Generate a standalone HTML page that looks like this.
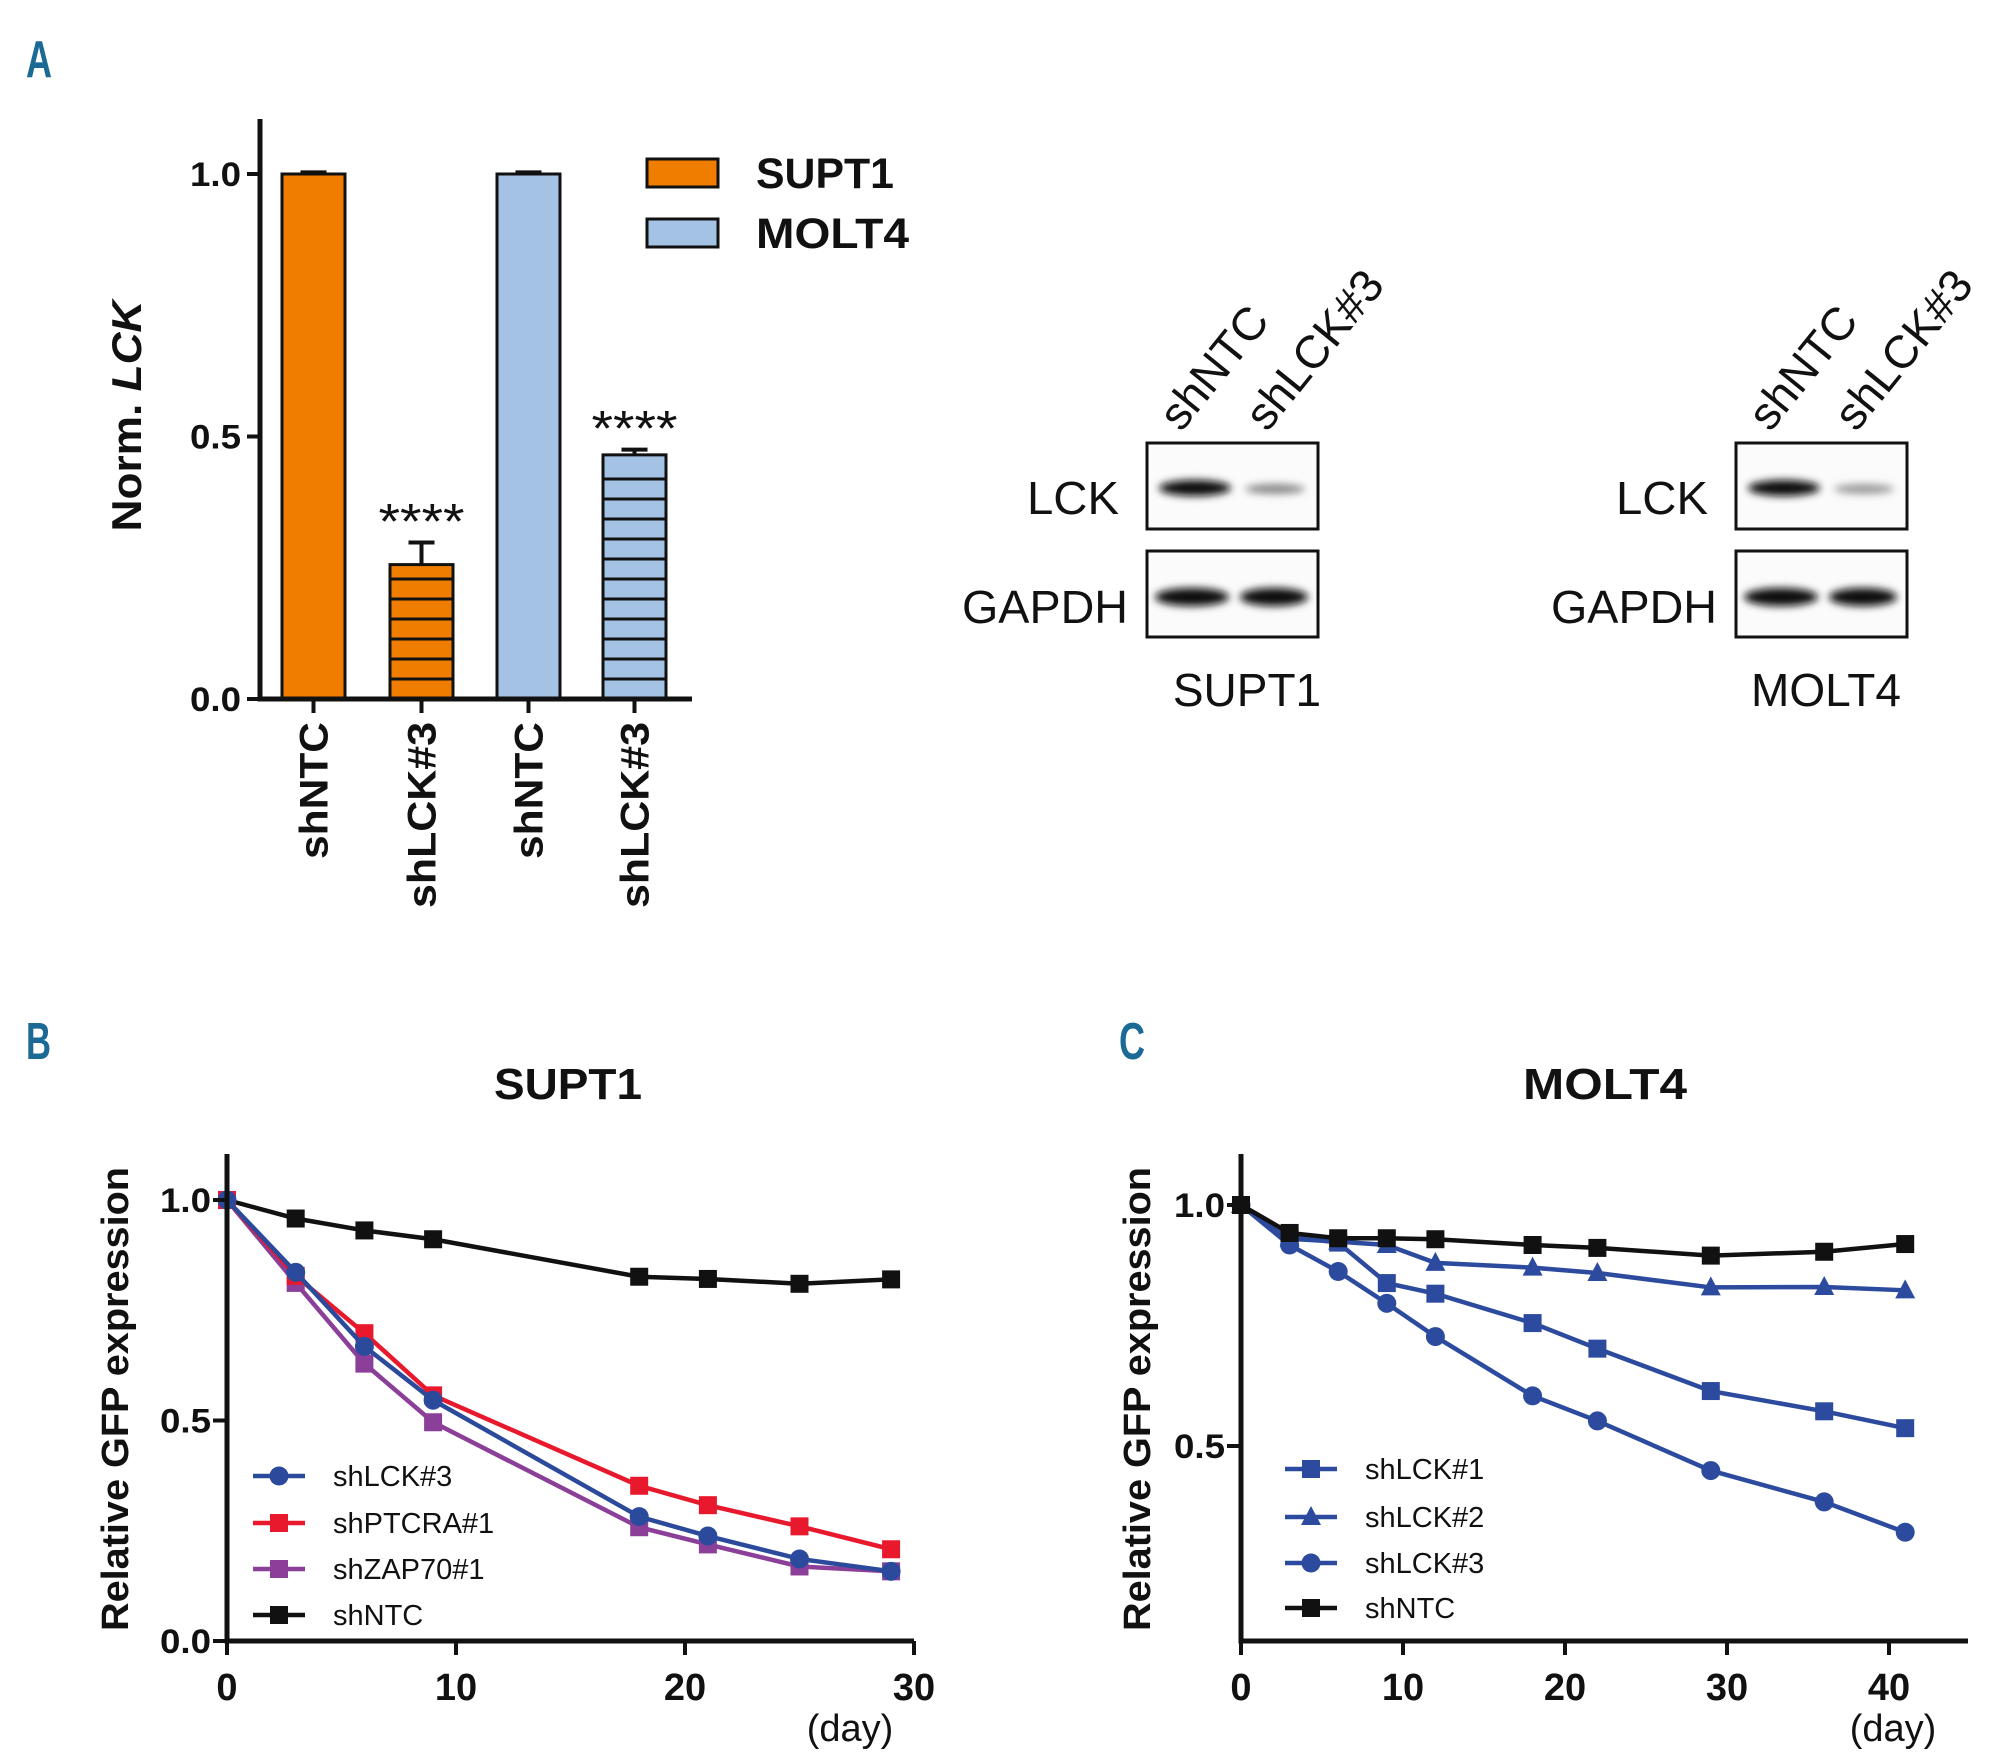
<!DOCTYPE html>
<html><head><meta charset="utf-8"><style>
html,body{margin:0;padding:0;background:#fff}
svg{display:block}
text{font-family:"Liberation Sans",sans-serif}
.b{font-weight:bold}
</style></head><body>
<svg id="fig" width="2000" height="1762" viewBox="0 0 2000 1762" xmlns="http://www.w3.org/2000/svg">
<defs>
<filter id="blur" x="-30%" y="-100%" width="160%" height="300%"><feGaussianBlur stdDeviation="4"/></filter>
</defs>
<g id="panelA"></g>
<g id="blots"></g>
<g id="panelB"></g>
<g id="panelC"></g>
</svg>
<script>
// ---------- Panel A data ----------
const barCategories = ["shNTC","shLCK#3","shNTC","shLCK#3"];
const barValues = [1.0, 0.256, 1.0, 0.465];
const barErrors = [0.003, 0.042, 0.003, 0.01];
const barStars = ["", "****", "", "****"];
const barTicks = [0.0, 0.5, 1.0];
const tickLabelsA = ["0.0","0.5","1.0"];
// ---------- Panel B data ----------
const daysB = [0,3,6,9,18,21,25,29];
const bNTC = [1.0,0.958,0.931,0.911,0.826,0.821,0.810,0.820];
const bLCK3 = [1.0,0.836,0.668,0.546,0.282,0.238,0.186,0.158];
const bPTCRA1 = [1.0,0.828,0.698,0.557,0.352,0.308,0.260,0.208];
const bZAP701 = [1.0,0.812,0.629,0.496,0.258,0.219,0.169,0.158];
const xTicksB = [0,10,20,30];
const yTicksB = [0.0,0.5,1.0];
const yTickLabelsB = ["0.0","0.5","1.0"];
// ---------- Panel C data ----------
const daysC = [0,3,6,9,12,18,22,29,36,41];
const cNTC = [1.0,0.942,0.931,0.931,0.929,0.917,0.911,0.895,0.903,0.919];
const cLCK2 = [1.0,0.930,0.924,0.917,0.880,0.870,0.859,0.829,0.830,0.823];
const cLCK1 = [1.0,0.935,0.922,0.838,0.816,0.755,0.702,0.614,0.572,0.537];
const cLCK3 = [1.0,0.917,0.862,0.796,0.727,0.604,0.552,0.449,0.384,0.321];
const xTicksC = [0,10,20,30,40];
const yTicksC = [0.5,1.0];
const yTickLabelsC = ["0.5","1.0"];

const NS="http://www.w3.org/2000/svg";
function mk(parent, tag, attrs, txt){
  const e=document.createElementNS(NS,tag);
  for(const k in attrs) e.setAttribute(k,attrs[k]);
  if(txt!==undefined) e.textContent=txt;
  parent.appendChild(e); return e;
}

// ===== Panel A =====
const A=document.getElementById('panelA');
const yA=v=>699-525*v;
const barX=[282,390,497,603], barW=63;
const barFill=["#ee7d00","#ee7d00","#a4c2e3","#a4c2e3"];
let t;
t=mk(A,'text',{x:26,y:77,'font-size':52,fill:'#1b6a96','class':'b',textLength:26,lengthAdjust:'spacingAndGlyphs'},'A');


barValues.forEach((v,i)=>{
  const x=barX[i], top=yA(v);
  const r=mk(A,'rect',{x:x,y:top,width:barW,height:yA(0)-top,fill:barFill[i],stroke:'#111','stroke-width':3});
  
  
  if(i%2==1){
    for(let yy=yA(0)-20; yy>top+8; yy-=20){
      const l=mk(A,'line',{x1:x,x2:x+barW,y1:yy,y2:yy,stroke:'#111','stroke-width':3});
      
      
    }
  }
  const cx=x+barW/2, ey=yA(v+barErrors[i]);
  const eb=mk(A,'path',{d:`M${cx} ${top}V${ey}M${cx-13} ${ey}H${cx+13}`,stroke:'#111','stroke-width':4,fill:'none'});
  
  
  if(barStars[i]){
    const s=mk(A,'text',{x:cx,y:ey-4,'font-size':50,'text-anchor':'middle',fill:'#111',textLength:86,lengthAdjust:'spacingAndGlyphs'},barStars[i]);
    
    
  }
  const tk=mk(A,'line',{x1:cx,x2:cx,y1:yA(0),y2:yA(0)+14,stroke:'#111','stroke-width':4});
  
  
  const lb=mk(A,'text',{x:0,y:0,'font-size':40,'class':'b','text-anchor':'end',fill:'#111',transform:`translate(${cx+14},722) rotate(-90)`,textLength:barCategories[i].length>5?186:137,lengthAdjust:'spacingAndGlyphs'},barCategories[i]);
  
  
});
barTicks.forEach((v,i)=>{
  const l=mk(A,'line',{x1:247,x2:260,y1:yA(v),y2:yA(v),stroke:'#111','stroke-width':4});
  
  
  const tx=mk(A,'text',{x:241,y:yA(v)+12,'font-size':34,'class':'b','text-anchor':'end',fill:'#111',textLength:51,lengthAdjust:'spacingAndGlyphs'},tickLabelsA[i]);
  
  
});
t=mk(A,'path',{d:'M260 119V699H692',stroke:'#111','stroke-width':5,fill:'none'});


t=mk(A,'text',{x:0,y:0,'font-size':42,'class':'b','text-anchor':'middle',fill:'#111',transform:'translate(141,416) rotate(-90)',textLength:231,lengthAdjust:'spacingAndGlyphs'});


t.innerHTML='Norm. <tspan font-style="italic">LCK</tspan>';
[["SUPT1","#ee7d00",159,138],["MOLT4","#a4c2e3",219,153]].forEach(([n,c,y,w])=>{
  const g=mk(A,'g',{});
  
  
  mk(g,'rect',{x:647,y:y,width:71,height:28,fill:c,stroke:'#111','stroke-width':3});
  mk(g,'text',{x:756,y:y+29,'font-size':43,'class':'b',fill:'#111',textLength:w,lengthAdjust:'spacingAndGlyphs'},n);
});

// ===== Blots =====
const BL=document.getElementById('blots');
function blot(x0,name,lckB,nameX){
  const g=mk(BL,'g',{});
  
  
  [["shNTC",x0+34],["shLCK#3",x0+120]].forEach(([s,x])=>{
    const tt=mk(g,'text',{x:0,y:0,'font-size':46,fill:'#111',transform:`translate(${x},433) rotate(-51)`},s);
    
    
  });
  mk(g,'rect',{x:x0,y:443,width:171,height:86,fill:'#fbfbfb',stroke:'#111','stroke-width':3});
  mk(g,'rect',{x:x0,y:551,width:171,height:86,fill:'#fbfbfb',stroke:'#111','stroke-width':3});
  mk(g,'ellipse',{cx:x0+48,cy:488,rx:36,ry:8,fill:'#111',filter:'url(#blur)'});
  mk(g,'ellipse',{cx:x0+128,cy:489,rx:30,ry:5,fill:lckB,filter:'url(#blur)'});
  mk(g,'ellipse',{cx:x0+45,cy:597,rx:37,ry:9,fill:'#0a0a0a',filter:'url(#blur)'});
  mk(g,'ellipse',{cx:x0+127,cy:597,rx:34,ry:9,fill:'#0a0a0a',filter:'url(#blur)'});
  let a=mk(g,'text',{x:x0-28,y:514,'font-size':46,'text-anchor':'end',fill:'#111',textLength:92,lengthAdjust:'spacingAndGlyphs'},'LCK');
  
  
  a=mk(g,'text',{x:x0-19,y:623,'font-size':46,'text-anchor':'end',fill:'#111',textLength:166,lengthAdjust:'spacingAndGlyphs'},'GAPDH');
  
  
  a=mk(g,'text',{x:nameX,y:706,'font-size':46,'text-anchor':'middle',fill:'#111'},name);
  
  
}
blot(1147,'SUPT1','#888',1247);
blot(1736,'MOLT4','#999',1826);

// ===== Line chart helper =====
function marker(g,m,x,y,c){
  if(m==='sq') mk(g,'rect',{x:x-9,y:y-9,width:18,height:18,fill:c});
  else if(m==='ci') mk(g,'circle',{cx:x,cy:y,r:9.5,fill:c});
  else mk(g,'polygon',{points:`${x},${y-11} ${x+10},${y+8} ${x-10},${y+8}`,fill:c});
}
function lineChart(P,cfg){
  const {xf,yf,series,legend,legY,legX,axis,xTicks,yTicks,yLabels,ytlX} = cfg;
  series.forEach(s=>{
    const g=mk(P,'g',{});
    
    
    const pts=s.x.map((d,i)=>xf(d)+','+yf(s.y[i])).join(' ');
    mk(g,'polyline',{points:pts,fill:'none',stroke:s.c,'stroke-width':4.5});
    s.x.forEach((d,i)=>marker(g,s.m,xf(d),yf(s.y[i]),s.c));
  });
  legend.forEach((s,i)=>{
    const g=mk(P,'g',{});
    
    
    const y=legY[i];
    mk(g,'line',{x1:legX,x2:legX+52,y1:y,y2:y,stroke:s.c,'stroke-width':4.5});
    marker(g,s.m,legX+26,y,s.c);
    mk(g,'text',{x:legX+80,y:y+10,'font-size':29,fill:'#111'},s.name);
  });
  const ax=mk(P,'path',{d:axis,stroke:'#111','stroke-width':5,fill:'none'});
  
  
  xTicks.forEach(d=>{
    const l=mk(P,'line',{x1:xf(d),x2:xf(d),y1:1641,y2:1655,stroke:'#111','stroke-width':4});
    
    
    const tt=mk(P,'text',{x:xf(d),y:1700,'font-size':38,'class':'b','text-anchor':'middle',fill:'#111'},String(d));
    
    
  });
  yTicks.forEach((v,i)=>{
    const l=mk(P,'line',{x1:ytlX+1,x2:ytlX+14,y1:yf(v),y2:yf(v),stroke:'#111','stroke-width':4});
    
    
    const tt=mk(P,'text',{x:ytlX-1,y:yf(v)+12,'font-size':34,'class':'b','text-anchor':'end',fill:'#111',textLength:51,lengthAdjust:'spacingAndGlyphs'},yLabels[i]);
    
    
  });
}

// ===== Panel B =====
const B=document.getElementById('panelB');
const xB=d=>227+22.9*d, yB=v=>1641-441*v;
t=mk(B,'text',{x:26,y:1059,'font-size':52,fill:'#1b6a96','class':'b',textLength:25,lengthAdjust:'spacingAndGlyphs'},'B');


t=mk(B,'text',{x:568,y:1099,'font-size':44,'class':'b','text-anchor':'middle',fill:'#111',textLength:148,lengthAdjust:'spacingAndGlyphs'},'SUPT1');


t=mk(B,'text',{x:0,y:0,'font-size':38,'class':'b','text-anchor':'middle',fill:'#111',transform:'translate(128,1399) rotate(-90)',textLength:464,lengthAdjust:'spacingAndGlyphs'},'Relative GFP expression');


t=mk(B,'text',{x:850,y:1741,'font-size':38,'text-anchor':'middle',fill:'#111'},'(day)');


const sNTC={name:'shNTC',x:daysB,y:bNTC,c:'#111',m:'sq'};
const sPT={name:'shPTCRA#1',x:daysB,y:bPTCRA1,c:'#e8192c',m:'sq'};
const sZAP={name:'shZAP70#1',x:daysB,y:bZAP701,c:'#8b3f98',m:'sq'};
const sL3={name:'shLCK#3',x:daysB,y:bLCK3,c:'#2b4a9c',m:'ci'};
lineChart(B,{xf:xB,yf:yB,legX:253,legY:[1476,1523,1569,1615],
  axis:'M227 1154V1641H914',xTicks:xTicksB,yTicks:yTicksB,yLabels:yTickLabelsB,ytlX:212,
  series:[sNTC,sZAP,sPT,sL3], legend:[sL3,sPT,sZAP,sNTC]});

// ===== Panel C =====
const C=document.getElementById('panelC');
const xC=d=>1241+16.2*d, yC=v=>1205+(1-v)*482;
t=mk(C,'text',{x:1119,y:1059,'font-size':52,fill:'#1b6a96','class':'b',textLength:26,lengthAdjust:'spacingAndGlyphs'},'C');


t=mk(C,'text',{x:1605,y:1099,'font-size':44,'class':'b','text-anchor':'middle',fill:'#111',textLength:164,lengthAdjust:'spacingAndGlyphs'},'MOLT4');


t=mk(C,'text',{x:0,y:0,'font-size':38,'class':'b','text-anchor':'middle',fill:'#111',transform:'translate(1150,1399) rotate(-90)',textLength:464,lengthAdjust:'spacingAndGlyphs'},'Relative GFP expression');


t=mk(C,'text',{x:1893,y:1741,'font-size':38,'text-anchor':'middle',fill:'#111'},'(day)');


const cb='#2d4b9e';
const cSeries=[
  {name:'shLCK#1',x:daysC,y:cLCK1,c:cb,m:'sq'},
  {name:'shLCK#2',x:daysC,y:cLCK2,c:cb,m:'tr'},
  {name:'shLCK#3',x:daysC,y:cLCK3,c:cb,m:'ci'},
  {name:'shNTC',x:daysC,y:cNTC,c:'#111',m:'sq'}
];
lineChart(C,{xf:xC,yf:yC,legX:1285,legY:[1469,1517,1563,1608],
  axis:'M1241 1154V1641H1968',xTicks:xTicksC,yTicks:yTicksC,yLabels:yTickLabelsC,ytlX:1226,
  series:cSeries, legend:cSeries});
</script>
</body></html>
